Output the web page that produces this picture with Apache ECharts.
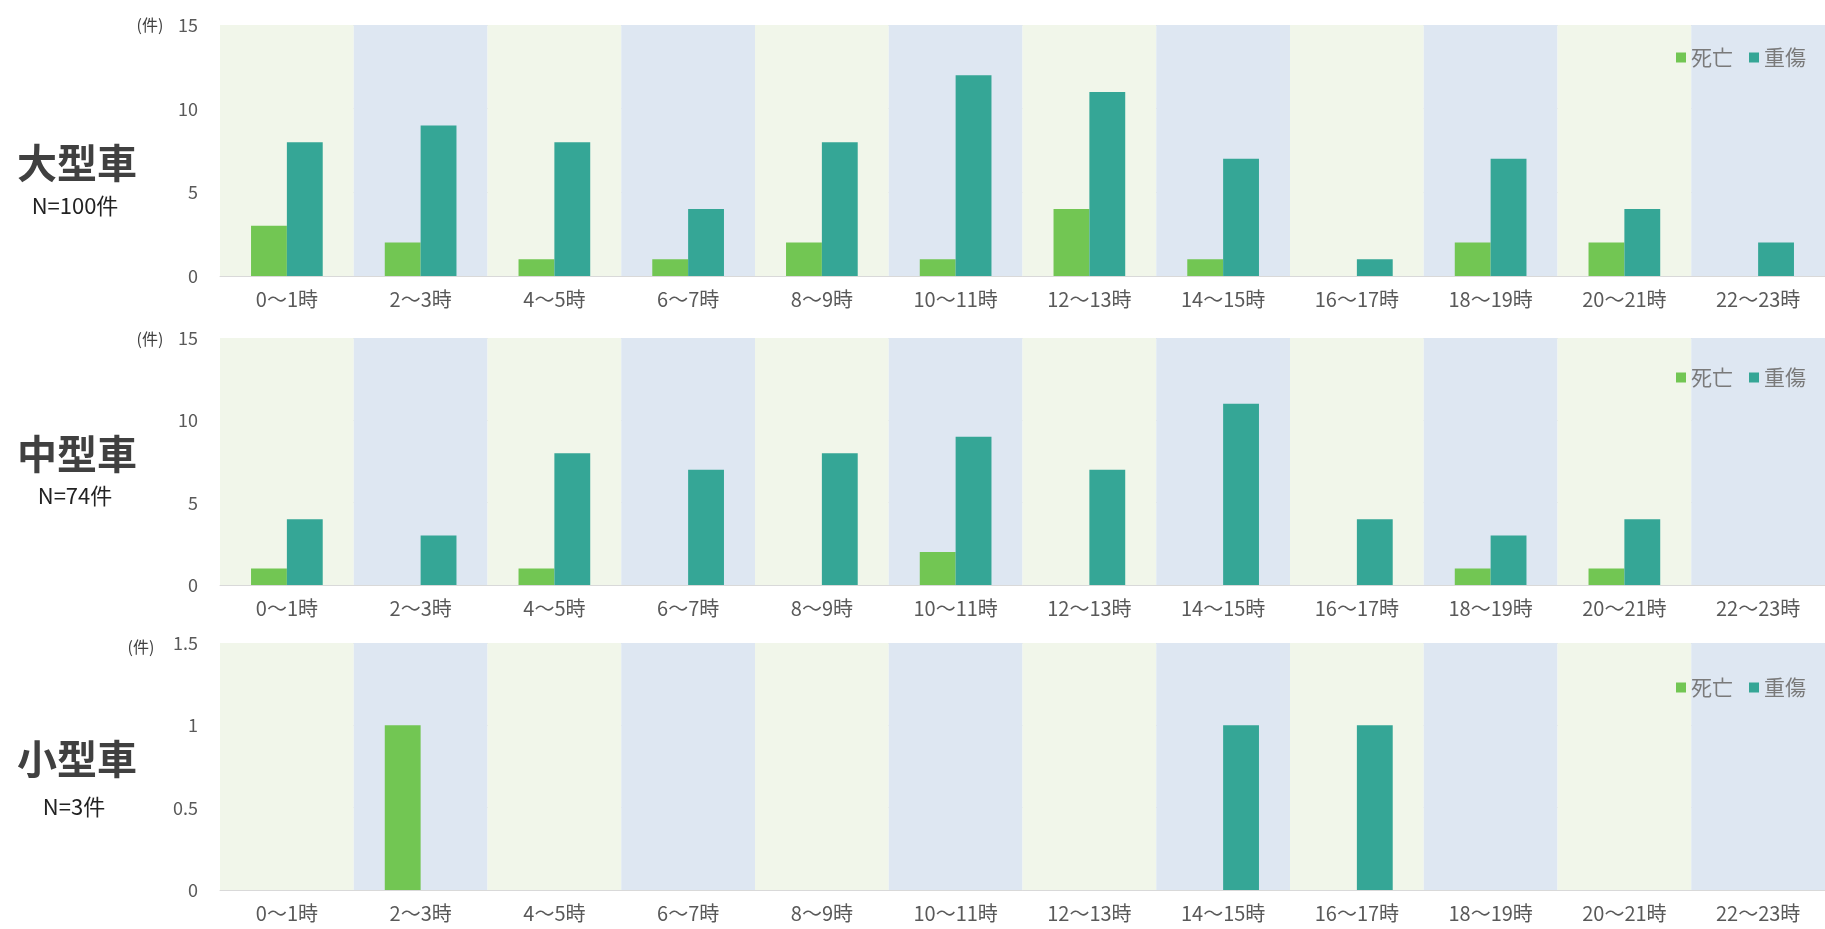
<!DOCTYPE html>
<html>
<head>
<meta charset="utf-8">
<script src="https://cdn.jsdelivr.net/npm/echarts@6/dist/echarts.min.js"></script>
<style>
html,body{margin:0;padding:0;background:#fff;}
#chart{width:1825px;height:929px;}
</style>
</head>
<body>
<div id="chart"></div>
<script>
const hours = ['0～1時','2～3時','4～5時','6～7時','8～9時','10～11時','12～13時','14～15時','16～17時','18～19時','20～21時','22～23時'];
const seriesNames = ['死亡','重傷'];
const panelTitles = ['大型車','中型車','小型車'];
const panelCounts = ['N=100件','N=74件','N=3件'];
const largeDeath  = [3,2,1,1,2,1,4,1,0,2,2,0];
const largeSevere = [8,9,8,4,8,12,11,7,1,7,4,2];
const midDeath    = [1,0,1,0,0,2,0,0,0,1,1,0];
const midSevere   = [4,3,8,7,8,9,7,11,4,3,4,0];
const smallDeath  = [0,1,0,0,0,0,0,0,0,0,0,0];
const smallSevere = [0,0,0,0,0,0,0,1,1,0,0,0];
const yMaxes = [15,15,1.5];
const yIntervals = [5,5,0.5];

const panelData = [[largeDeath,largeSevere],[midDeath,midSevere],[smallDeath,smallSevere]];
const colors = ['#72c653','#35a696'];
const font = '"Noto Sans CJK JP","Noto Sans",sans-serif';

const gridTops = [25,338,643];
const gridHeights = [251,247,247];
const legendTops = [42,362,672];
const unitYs = [25,339,647];
const unitXs = [150,150,141];
const titleYs = [163,454,759];
const countYs = [206,496,807];
const countXs = [75,75,74];

const grids=[], xAxes=[], yAxes=[], series=[], legends=[], graphics=[];
for (let i=0;i<3;i++){
  grids.push({left:220, top:gridTops[i], height:gridHeights[i], width:1614});
  xAxes.push({
    type:'category', gridIndex:i, data:hours,
    axisLine:{show:true, lineStyle:{color:'#d9d9d9'}},
    axisTick:{show:false},
    axisLabel:{interval:0, color:'#595959', fontSize:20, margin:13, fontFamily:font},
    splitArea:{show:true, interval:0, areaStyle:{color:['#f1f6ea','#dee7f2']}}
  });
  yAxes.push({
    type:'value', gridIndex:i, min:0, max:yMaxes[i], interval:yIntervals[i],
    axisLine:{show:false}, axisTick:{show:false},
    axisLabel:{color:'#595959', fontSize:18, margin:22, fontFamily:font},
    splitLine:{show:true, lineStyle:{color:'#dcdcdc', width:1}}
  });
  for (let s=0;s<2;s++){
    series.push({
      name:seriesNames[s], type:'bar', xAxisIndex:i, yAxisIndex:i,
      data:panelData[i][s], barWidth:'26.8%', barGap:'0%',
      itemStyle:{color:colors[s]}, z:3
    });
  }
  legends.push({
    data:seriesNames, right:14, top:legendTops[i], orient:'horizontal',
    icon:'rect', itemWidth:10, itemHeight:10, itemGap:16,
    textStyle:{color:'#7a7a7a', fontSize:21, fontFamily:font},
    selectedMode:false
  });
  graphics.push({type:'text', x:unitXs[i], y:unitYs[i], style:{text:'(件)', font:'16px '+font, fill:'#404040', align:'center', verticalAlign:'middle'}});
  graphics.push({type:'text', x:77, y:titleYs[i], style:{text:panelTitles[i], font:'bold 40px '+font, fill:'#404040', align:'center', verticalAlign:'middle'}});
  graphics.push({type:'text', x:countXs[i], y:countYs[i], style:{text:panelCounts[i], font:'22px '+font, fill:'#222222', align:'center', verticalAlign:'middle'}});
}

const chart = echarts.init(document.getElementById('chart'));
chart.setOption({
  animation:false,
  backgroundColor:'#ffffff',
  grid:grids, xAxis:xAxes, yAxis:yAxes, series:series, legend:legends, graphic:graphics
});
</script>
</body>
</html>
